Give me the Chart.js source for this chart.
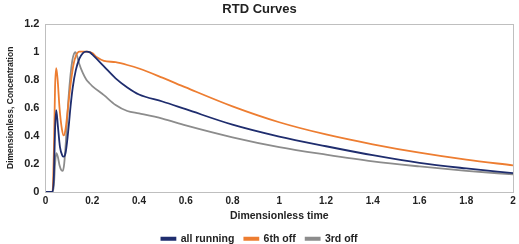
<!DOCTYPE html>
<html>
<head>
<meta charset="utf-8">
<script src="https://cdn.jsdelivr.net/npm/chart.js@4/dist/chart.umd.min.js"></script>
<style>
html,body{margin:0;padding:0;background:#fff;}
#wrap{width:519px;height:244px;position:relative;}
</style>
</head>
<body>
<div id="wrap"><canvas id="c" width="519" height="244"></canvas></div>
<script>
const allRunningX = [0, 0.03, 0.036, 0.041, 0.046, 0.053, 0.062, 0.072, 0.078, 0.086, 0.093, 0.1, 0.107, 0.117, 0.13, 0.145, 0.16, 0.174, 0.19, 0.2, 0.25, 0.3, 0.35, 0.4, 0.5, 0.6, 0.8, 1.0, 1.2, 1.4, 1.6, 1.8, 2.0];
const allRunningY = [0, 0, 0.12, 0.45, 0.583, 0.47, 0.32, 0.26, 0.252, 0.28, 0.367, 0.48, 0.607, 0.75, 0.87, 0.95, 0.99, 1.0, 0.995, 0.98, 0.895, 0.81, 0.745, 0.695, 0.645, 0.59, 0.48, 0.395, 0.326, 0.262, 0.207, 0.168, 0.135];

const sixthOffX = [0, 0.03, 0.036, 0.041, 0.046, 0.052, 0.06, 0.07, 0.078, 0.086, 0.093, 0.1, 0.11, 0.12, 0.13, 0.145, 0.16, 0.18, 0.2, 0.22, 0.25, 0.3, 0.35, 0.4, 0.5, 0.6, 0.8, 1.0, 1.2, 1.4, 1.6, 1.8, 2.0];
const sixthOffY = [0, 0, 0.3, 0.75, 0.883, 0.8, 0.6, 0.45, 0.403, 0.45, 0.55, 0.66, 0.8, 0.91, 0.97, 1.0, 1.0, 1.0, 0.99, 0.96, 0.935, 0.925, 0.905, 0.88, 0.815, 0.745, 0.61, 0.497, 0.41, 0.34, 0.28, 0.23, 0.19];

const thirdOffX = [0, 0.03, 0.036, 0.041, 0.046, 0.053, 0.06, 0.068, 0.074, 0.08, 0.088, 0.096, 0.105, 0.115, 0.122, 0.128, 0.135, 0.145, 0.16, 0.175, 0.188, 0.2, 0.25, 0.3, 0.35, 0.4, 0.5, 0.6, 0.8, 1.0, 1.2, 1.4, 1.6, 1.8, 2.0];
const thirdOffY = [0, 0, 0.05, 0.2, 0.276, 0.25, 0.19, 0.155, 0.151, 0.2, 0.38, 0.607, 0.8, 0.94, 0.985, 0.996, 0.97, 0.91, 0.847, 0.8, 0.775, 0.755, 0.69, 0.62, 0.577, 0.56, 0.523, 0.475, 0.39, 0.32, 0.266, 0.218, 0.182, 0.151, 0.125];

const seriesNames = ["all running", "6th off", "3rd off"];
const xTicks = [0, 0.2, 0.4, 0.6, 0.8, 1, 1.2, 1.4, 1.6, 1.8, 2];
const yTicks = [0, 0.2, 0.4, 0.6, 0.8, 1, 1.2];

function pts(xs, ys){ return xs.map((x,i)=>({x:x, y:ys[i]})); }

const boxPlugin = {
  id:'box',
  afterDraw(chart){
    const a = chart.chartArea, ctx = chart.ctx;
    ctx.save();
    ctx.strokeStyle = '#bfbfbf';
    ctx.lineWidth = 1;
    ctx.strokeRect(Math.round(a.left)+0.5, Math.round(a.top)+0.5, Math.round(a.right-a.left), Math.round(a.bottom-a.top));
    ctx.restore();
  }
};

const font = {family:"'Liberation Sans', Arial, sans-serif", weight:'bold', size:11};

new Chart(document.getElementById('c'), {
  type:'line',
  data:{
    datasets:[
      {label:seriesNames[0], data:pts(allRunningX, allRunningY), borderColor:'#1f2d6e', backgroundColor:'#1f2d6e', borderWidth:1.8, pointRadius:0, cubicInterpolationMode:'monotone'},
      {label:seriesNames[1], data:pts(sixthOffX, sixthOffY), borderColor:'#ed7d31', backgroundColor:'#ed7d31', borderWidth:1.8, pointRadius:0, cubicInterpolationMode:'monotone'},
      {label:seriesNames[2], data:pts(thirdOffX, thirdOffY), borderColor:'#8c8c8c', backgroundColor:'#8c8c8c', borderWidth:1.8, pointRadius:0, cubicInterpolationMode:'monotone'}
    ]
  },
  options:{
    responsive:false,
    animation:false,
    layout:{padding:{left:6, right:6, top:0, bottom:-10}},
    plugins:{
      title:{display:true, text:'RTD Curves', color:'#222', font:{family:font.family, weight:'bold', size:13}, padding:{top:2, bottom:6}},
      legend:{position:'bottom', labels:{color:'#222', font:{...font, size:10.5}, boxWidth:14, boxHeight:2, padding:10}},
      tooltip:{enabled:false}
    },
    scales:{
      x:{type:'linear', min:0, max:2,
        afterBuildTicks(s){ s.ticks = xTicks.map(v=>({value:v})); },
        ticks:{color:'#222', font:{...font, size:10}, maxRotation:0, padding:3, callback:v=>String(v)},
        grid:{display:false, drawTicks:false},
        border:{display:false},
        title:{display:true, text:'Dimensionless time', color:'#222', font:{...font, size:10.5, lineHeight:1}, padding:{top:1, bottom:2}}
      },
      y:{min:0, max:1.2,
        afterBuildTicks(s){ s.ticks = yTicks.map(v=>({value:v})); },
        ticks:{color:'#222', font:{...font, size:11}, padding:6, callback:v=>String(v)},
        grid:{display:false, drawTicks:false},
        border:{display:false},
        title:{display:true, text:'Dimensionless, Concentration', color:'#222', font:{...font, size:8.5}, padding:{top:0, bottom:2}}
      }
    }
  },
  plugins:[boxPlugin]
});
</script>
</body>
</html>
